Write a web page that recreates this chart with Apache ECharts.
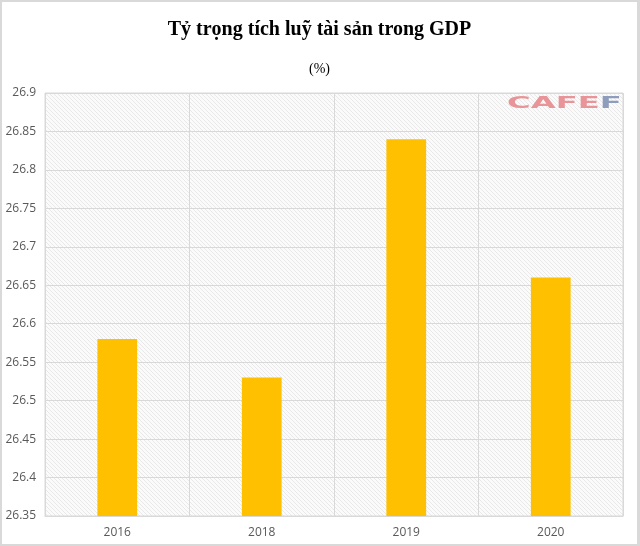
<!DOCTYPE html>
<html><head><meta charset="utf-8">
<script src="https://cdn.jsdelivr.net/npm/echarts@6/dist/echarts.min.js"></script>
<style>html,body{margin:0;padding:0;background:#fff}#c{width:640px;height:546px;box-sizing:border-box;border:2px solid #d9d9d9;border-right-width:3px}</style>
</head><body><div id="c"></div>
<script>
var categories = ['2016', '2018', '2019', '2020'];
var values = [26.58, 26.53, 26.84, 26.66];
var yTicks = [26.35, 26.9, 0.05];

function hatch() {
  var c = document.createElement('canvas');
  c.width = 4; c.height = 4;
  var g = c.getContext('2d');
  g.fillStyle = '#fbfbfb'; g.fillRect(0, 0, 4, 4);
  g.strokeStyle = '#e8e8e8'; g.lineWidth = 1;
  g.beginPath(); g.moveTo(0, 0); g.lineTo(4, 4); g.stroke();
  return c;
}

var chart = echarts.init(document.getElementById('c'), null, {renderer: 'canvas'});
chart.setOption({
  animation: false,
  title: [{
    text: 'Tỷ trọng tích luỹ tài sản trong GDP',
    left: 'center', top: 13,
    textStyle: {fontFamily: 'Liberation Serif', fontWeight: 'bold', fontSize: 20, color: '#000'}
  }, {
    text: '(%)', left: 'center', top: 55,
    textStyle: {fontFamily: 'Liberation Serif', fontWeight: 'normal', fontSize: 14, color: '#000'}
  }],
  graphic: [{
    type: 'text', x: 505, y: 95, scaleX: 2.15, scaleY: 1,
    style: {
      text: '{a|CAFE}{b|F}',
      rich: {
        a: {fontSize: 15, fontWeight: 'bold', fontFamily: 'DejaVu Sans', fill: '#e89498', color: '#e89498'},
        b: {fontSize: 15, fontWeight: 'bold', fontFamily: 'DejaVu Sans', fill: '#8f9dbd', color: '#8f9dbd'}
      }
    }
  }],
  grid: {left: 43, right: 14, top: 91, bottom: 28, show: true,
    backgroundColor: {image: hatch(), repeat: 'repeat'}, borderColor: '#d9d9d9', borderWidth: 1},
  xAxis: {
    type: 'category', data: categories,
    axisLine: {lineStyle: {color: '#d9d9d9'}},
    axisTick: {show: false},
    splitLine: {show: true, lineStyle: {color: '#d9d9d9'}},
    axisLabel: {color: '#595959', fontFamily: 'Open Sans', fontSize: 12, margin: 11}
  },
  yAxis: {
    type: 'value', min: yTicks[0], max: yTicks[1], interval: yTicks[2],
    axisLine: {show: false}, axisTick: {show: false},
    splitLine: {lineStyle: {color: '#d9d9d9'}},
    axisLabel: {color: '#595959', fontFamily: 'Open Sans', fontSize: 12, margin: 9,
      formatter: function (v) { return String(+v.toFixed(2)); }}
  },
  series: [{
    type: 'bar', data: values, barWidth: '27.5%',
    itemStyle: {color: '#ffc000'}
  }]
});
</script></body></html>
